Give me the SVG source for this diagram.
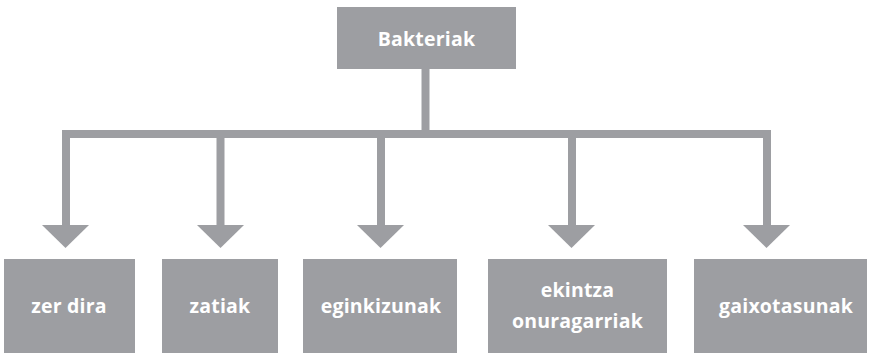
<svg xmlns="http://www.w3.org/2000/svg" width="872" height="353" viewBox="0 0 872 353">
<style>
.box{fill:#9d9ea2}
.lbl{font-family:"Open Sans","Liberation Sans",sans-serif;font-weight:bold;font-size:19.5px;letter-spacing:0.2px;fill:#ffffff;text-anchor:middle}
.ln{stroke:#9d9ea2;stroke-width:8;fill:none}
.ah{fill:#9d9ea2}
</style>
<rect width="872" height="353" fill="#ffffff"/>
<g id="connectors">
<path class="ln" d="M425.5 69V134"/>
<path class="ln" d="M66 228V134H767V228"/>
<path class="ln" d="M220.5 134V228"/>
<path class="ln" d="M381 134V228"/>
<path class="ln" d="M572 134V228"/>
<polygon class="ah" points="42,225 89,225 65.5,248"/>
<polygon class="ah" points="197,225 244,225 220.5,248"/>
<polygon class="ah" points="357,225 404,225 380.5,248"/>
<polygon class="ah" points="548,225 595,225 571.5,248"/>
<polygon class="ah" points="743,225 790,225 766.5,248"/>
</g>
<g id="n-bakteriak"><rect class="box" x="337" y="7" width="179" height="62"/><text class="lbl" x="426.5" y="46">Bakteriak</text></g>
<g id="n-zerdira"><rect class="box" x="4" y="259" width="131" height="94"/><text class="lbl" x="69" y="313">zer dira</text></g>
<g id="n-zatiak"><rect class="box" x="162" y="259" width="116" height="94"/><text class="lbl" x="220" y="313">zatiak</text></g>
<g id="n-eginkizunak"><rect class="box" x="303" y="259" width="154" height="94"/><text class="lbl" x="381" y="313">eginkizunak</text></g>
<g id="n-ekintza"><rect class="box" x="488" y="259" width="179" height="94"/><text class="lbl" x="577.5" y="297">ekintza</text><text class="lbl" x="577.5" y="328">onuragarriak</text></g>
<g id="n-gaixotasunak"><rect class="box" x="694" y="259" width="173" height="94"/><text class="lbl" x="786" y="313">gaixotasunak</text></g>
</svg>
